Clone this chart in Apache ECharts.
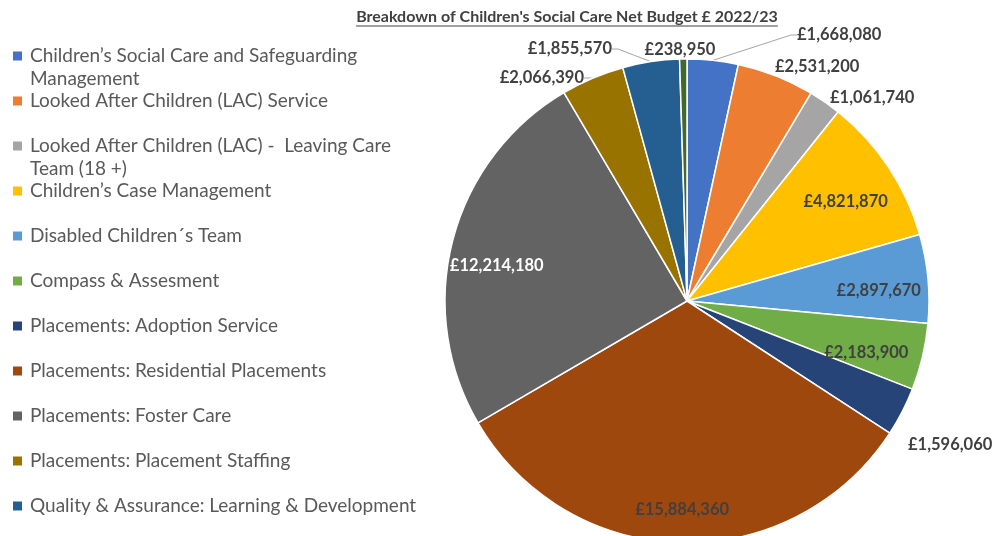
<!DOCTYPE html>
<html>
<head>
<meta charset="utf-8">
<script src="https://cdn.jsdelivr.net/npm/echarts@6/dist/echarts.min.js"></script>
<style>
  html, body { margin: 0; padding: 0; background: #ffffff; }
  #chart { width: 993px; height: 536px; }
</style>
</head>
<body>
<div id="chart"></div>
<script>
// Budget lines, in clockwise order from 12 o'clock
const categories = [
  'Children’s Social Care and Safeguarding\nManagement',
  'Looked After Children (LAC) Service',
  'Looked After Children (LAC) -  Leaving Care\nTeam (18 +)',
  'Children’s Case Management',
  'Disabled Children´s Team',
  'Compass & Assesment',
  'Placements: Adoption Service',
  'Placements: Residential Placements',
  'Placements: Foster Care',
  'Placements: Placement Staffing',
  'Quality & Assurance: Learning & Development',
  'Quality & Assurance: Other'
];
const budgets = [
  1668080, 2531200, 1061740, 4821870, 2897670, 2183900,
  1596060, 15884360, 12214180, 2066390, 1855570, 238950
];
const sliceColors = [
  '#4472C4', '#ED7D31', '#A5A5A5', '#FFC000', '#5B9BD5', '#70AD47',
  '#264478', '#9E480E', '#636363', '#997300', '#255E91', '#43682B'
];
// which slices carry their value label inside the sector
const labelInside = [false, false, false, true, true, true, false, true, true, false, false, false];
// which outside labels are joined to their slice by a leader line
const showLeader = [true, false, false, false, false, false, false, false, false, true, true, false];
// legend entries shown (the last slice has no entry in view)
const legendCount = 11;

const titleText = 'Breakdown of Children\'s Social Care Net Budget £ 2022/23';

// where the outside value labels sit: [x, y, align]
const outsideLabelAt = {
  0: [797, 35, 'left'],
  1: [775, 67, 'left'],
  2: [830, 98, 'left'],
  6: [908, 445, 'left'],
  9: [584, 78, 'right'],
  10: [612, 49, 'right'],
  11: [680, 50, 'center']
};
// small nudges for the in-sector labels: [dx, dy]
const insideLabelNudge = {
  3: [-5, 10], 4: [-4, 8], 5: [-12, 6], 7: [0, 12], 8: [0, 14]
};

function money(v) {
  return '£' + String(v).replace(/\B(?=(\d{3})+(?!\d))/g, ',');
}

const FONT = 'Lato, "Open Sans", sans-serif';
const CX = 687, CY = 301, R = 242;
const VALUE_FONT = 16.5;

const chart = echarts.init(document.getElementById('chart'), null, { renderer: 'canvas' });

// legend: one component per entry so every entry sits on a fixed 45px pitch,
// with the swatch level with the first line of wrapped names
const LH = 23;
const legends = [];
for (let i = 0; i < legendCount; i++) {
  const lines = categories[i].split('\n').length;
  const boxH = lines * LH;
  const centre = 56 + i * 45;
  const entry = { name: categories[i] };
  let itemHeight = 9;
  if (lines > 1) {
    itemHeight = boxH;
    const s0 = LH / 2 - 4.5;
    entry.icon = 'path://M0,' + s0 + 'H9V' + (s0 + 9) + 'H0Z M0,0H0 M0,' + boxH + 'H0';
  }
  legends.push({
    left: 13,
    top: centre - LH / 2,
    padding: 0,
    orient: 'vertical',
    selectedMode: false,
    icon: 'rect',
    itemWidth: 9,
    itemHeight: itemHeight,
    itemStyle: { borderWidth: 0 },
    data: [entry],
    textStyle: { fontFamily: FONT, fontSize: 19, color: '#595959', lineHeight: LH, padding: [0, 0, 0, 3] }
  });
}

// title underline measured from the rendered font
const TITLE_FONT = 16;
const meas = document.createElement('canvas').getContext('2d');
meas.font = 'bold ' + TITLE_FONT + 'px ' + FONT;
const titleW = meas.measureText(titleText).width;
const titleCX = 567, titleY = 17;

const option = {
  backgroundColor: '#ffffff',
  animation: false,
  title: {
    text: titleText,
    left: titleCX,
    top: titleY - 9,
    textAlign: 'center',
    padding: 0,
    textStyle: { fontFamily: FONT, fontSize: TITLE_FONT, fontWeight: 'bold', color: '#404040', lineHeight: 18 }
  },
  graphic: [{
    type: 'line',
    shape: { x1: titleCX - titleW / 2, y1: titleY + 9, x2: titleCX + titleW / 2, y2: titleY + 9 },
    style: { stroke: '#404040', lineWidth: 1 }
  }],
  legend: legends,
  series: [
    {
      name: 'Net budget',
      type: 'pie',
      center: [CX, CY],
      radius: R,
      startAngle: 90,
      clockwise: true,
      avoidLabelOverlap: false,
      itemStyle: { borderColor: '#ffffff', borderWidth: 1.5 },
      label: {
        position: 'outside',
        overflow: 'none',
        formatter: p => money(p.value),
        fontFamily: FONT, fontSize: VALUE_FONT, fontWeight: 'bold', color: '#404040'
      },
      labelLine: { length: 12, length2: 6, lineStyle: { color: '#A6A6A6', width: 1 } },
      labelLayout: p => {
        const spot = outsideLabelAt[p.dataIndex];
        if (!spot) return {};
        return { x: spot[0], y: spot[1], align: spot[2], verticalAlign: 'middle' };
      },
      emphasis: { scale: false },
      data: categories.map((name, i) => ({
        name,
        value: budgets[i],
        itemStyle: { color: sliceColors[i] },
        label: { show: !labelInside[i] },
        labelLine: { show: !labelInside[i] && showLeader[i] }
      }))
    },
    {
      // transparent ring used only to place the in-sector value labels
      name: 'Net budget labels',
      type: 'pie',
      center: [CX, CY],
      radius: [R * 0.6, R],
      startAngle: 90,
      clockwise: true,
      silent: true,
      avoidLabelOverlap: false,
      itemStyle: { color: 'rgba(0,0,0,0)', borderWidth: 0 },
      label: {
        position: 'inside',
        formatter: p => money(p.value),
        fontFamily: FONT, fontSize: VALUE_FONT, fontWeight: 'bold', color: '#404040'
      },
      labelLine: { show: false },
      labelLayout: p => {
        const n = insideLabelNudge[p.dataIndex];
        return n ? { dx: n[0], dy: n[1] } : {};
      },
      emphasis: { disabled: true },
      data: categories.map((name, i) => ({
        name,
        value: budgets[i],
        label: { show: labelInside[i], color: i === 8 ? '#ffffff' : '#404040' }
      }))
    }
  ]
};

chart.setOption(option);
</script>
</body>
</html>
